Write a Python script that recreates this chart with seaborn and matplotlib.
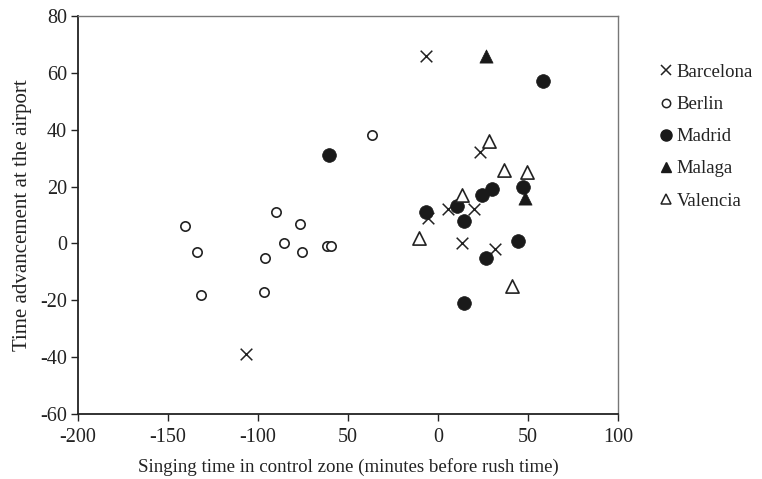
import matplotlib
matplotlib.use("Agg")
import matplotlib.pyplot as plt
import seaborn as sns
import pandas as pd
from matplotlib.lines import Line2D

sns.set_style("white")
plt.rcParams['font.family'] = ['Liberation Serif', 'DejaVu Serif']
plt.rcParams['axes.unicode_minus'] = False

# Data
barcelona_x = [-6.7, -106.7, 23.3, 5.6, 20.0, -5.6, 13.3, 31.7]
barcelona_y = [66, -39, 32, 12, 12, 9, 0, -2]
berlin_x = [-140.6, -133.9, -131.7, -96.7, -96.0, -90.0, -85.6, -76.7, -75.6, -61.7, -59.4, -36.7]
berlin_y = [6, -3, -18, -17, -5, 11, 0, 7, -3, -1, -1, 38]
madrid_x = [-60.6, 58.3, -6.7, 10.6, 14.4, 24.4, 30.0, 47.2, 44.4, 26.7, 14.4]
madrid_y = [31, 57, 11, 13, 8, 17, 19, 20, 1, -5, -21]
malaga_x = [26.7, 48.3]
malaga_y = [66, 16]
valencia_x = [-10.6, 13.3, 28.3, 36.7, 49.4, 41.0]
valencia_y = [2, 17, 36, 26, 25, -15]

x_ticks = [-200, -150, -100, -50, 0, 50, 100]
x_tick_labels = ["-200", "-150", "-100", "50", "0", "50", "100"]
y_ticks = [-60, -40, -20, 0, 20, 40, 60, 80]

cities = ["Barcelona", "Berlin", "Madrid", "Malaga", "Valencia"]
xs = [barcelona_x, berlin_x, madrid_x, malaga_x, valencia_x]
ys = [barcelona_y, berlin_y, madrid_y, malaga_y, valencia_y]
styles = {
    "Barcelona": dict(marker="x", s=70, color="#222222", linewidths=1.1),
    "Berlin": dict(marker="o", s=45, facecolor="white", edgecolor="#222222", linewidth=1.2),
    "Madrid": dict(marker="o", s=98, color="#1a1a1a", edgecolor="#1a1a1a", linewidth=0.5),
    "Malaga": dict(marker="^", s=90, color="#1a1a1a", edgecolor="#1a1a1a", linewidth=0.5),
    "Valencia": dict(marker="^", s=90, facecolor="white", edgecolor="#222222", linewidth=1.2),
}

rows = []
for c, xv, yv in zip(cities, xs, ys):
    for a, b in zip(xv, yv):
        rows.append({"city": c, "x": a, "y": b})
df = pd.DataFrame(rows)

fig = plt.figure(figsize=(7.62, 4.79), dpi=100)
ax = fig.add_axes([78 / 762, 1 - 414 / 479, (618 - 78) / 762, (414 - 16) / 479])

for c in cities:
    sub = df[df.city == c]
    sns.scatterplot(data=sub, x="x", y="y", ax=ax, legend=False, **styles[c])

ax.set_xlim(-200, 100)
ax.set_ylim(-60, 80)
ax.set_xticks(x_ticks)
ax.set_xticklabels(x_tick_labels)
ax.set_yticks(y_ticks)
ax.tick_params(axis="both", which="both", direction="out", length=5, width=1,
               labelsize=14.5, colors="#222222", bottom=True, left=True, pad=3)
ax.tick_params(axis="x", pad=5)
ax.set_xlabel("Singing time in control zone (minutes before rush time)", fontsize=13.6,
              color="#222222", labelpad=8)
ax.set_ylabel("Time advancement at the airport", fontsize=15, color="#222222", labelpad=6)
for side in ["left", "bottom"]:
    ax.spines[side].set_color("#222222")
    ax.spines[side].set_linewidth(1.3)
for side in ["top", "right"]:
    ax.spines[side].set_color("#777777")
    ax.spines[side].set_linewidth(1.0)

handles = [
    Line2D([], [], marker="x", linestyle="none", color="#222222", markersize=7, markeredgewidth=1.1),
    Line2D([], [], marker="o", linestyle="none", markerfacecolor="white", markeredgecolor="#222222", markersize=6, markeredgewidth=1.1),
    Line2D([], [], marker="o", linestyle="none", color="#1a1a1a", markersize=8),
    Line2D([], [], marker="^", linestyle="none", color="#1a1a1a", markersize=7),
    Line2D([], [], marker="^", linestyle="none", markerfacecolor="white", markeredgecolor="#222222", markersize=7, markeredgewidth=1.1),
]
fig.legend(handles, cities, loc="upper left", bbox_to_anchor=(642 / 762, 1 - 47 / 479),
           frameon=False, fontsize=13.5, handlelength=0.8, handletextpad=0.15,
           labelspacing=0.8, labelcolor="#222222")

fig.savefig("out.png", dpi=100)
